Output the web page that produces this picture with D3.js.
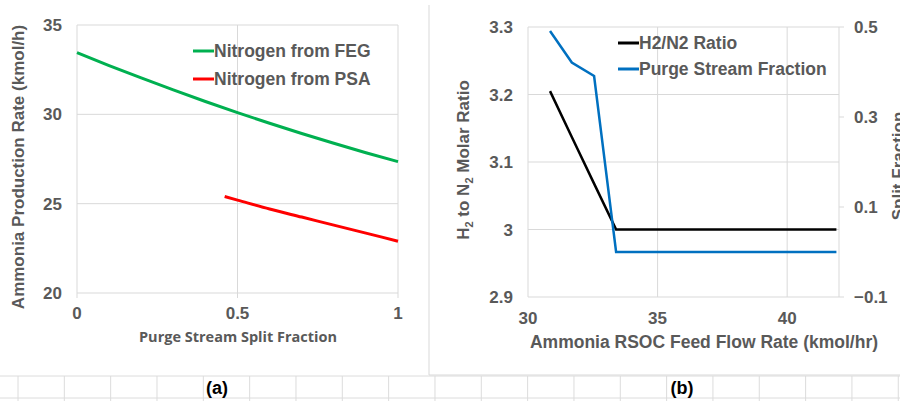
<!DOCTYPE html>
<html>
<head>
<meta charset="utf-8">
<script src="https://cdn.jsdelivr.net/npm/d3@7"></script>
<style>
  body { margin: 0; background: #fff; }
  svg { display: block; }
  text { font-family: "Liberation Sans", Arial, sans-serif; font-weight: bold; fill: #595959; }
</style>
</head>
<body>
<svg id="chart" width="900" height="401"></svg>
<script>

// ---- panel (a) data: purge stream split fraction vs ammonia production ----
var splitFrac = [0, 0.1, 0.2, 0.3, 0.4, 0.5, 0.6, 0.7, 0.8, 0.9, 1.0];
var feg = [33.45, 32.73, 32.04, 31.37, 30.72, 30.1, 29.5, 28.93, 28.38, 27.85, 27.35];
var psaFrac = [0.46, 0.5, 0.6, 0.7, 0.8, 0.9, 1.0];
var psa = [25.4, 25.2, 24.7, 24.25, 23.8, 23.35, 22.9];
var aXTicks = [0, 0.5, 1];
var aYTicks = [20, 25, 30, 35];

// ---- panel (b) data: RSOC feed flow vs H2/N2 ratio and purge fraction ----
var feedFlow = [30.85, 31.69, 32.55, 33.4, 35, 37, 39, 41.9];
var h2n2 = [3.205, 3.137, 3.068, 3.0, 3.0, 3.0, 3.0, 3.0];
var purge = [0.491, 0.421, 0.391, 0.0, 0.0, 0.0, 0.0, 0.0];
var bXTicks = [30, 35, 40];
var bYTicks = [2.9, 3.0, 3.1, 3.2, 3.3];
var bY2Ticks = [-0.1, 0.1, 0.3, 0.5];

var svg = d3.select('#chart');
var gridCol = '#d9d9d9';

// spreadsheet cells underneath
var cells = svg.append('g');
[376, 398].forEach(function(y) {
  cells.append('line').attr('x1', 0).attr('x2', 900).attr('y1', y).attr('y2', y)
    .attr('stroke', '#dcdcdc').attr('stroke-width', 1);
});
d3.range(18, 900, 46.33).forEach(function(x) {
  cells.append('line').attr('x1', x).attr('x2', x).attr('y1', 376).attr('y2', 401)
    .attr('stroke', '#dcdcdc').attr('stroke-width', 1);
});
// chart frame edges
svg.append('line').attr('x1', 429).attr('x2', 429).attr('y1', 5).attr('y2', 375).attr('stroke', gridCol);
svg.append('line').attr('x1', 429).attr('x2', 900).attr('y1', 375).attr('y2', 375).attr('stroke', gridCol);

svg.append('text').attr('x', 217).attr('y', 394).attr('text-anchor', 'middle')
  .style('font-size', '18px').style('fill', '#000').text('(a)');
svg.append('text').attr('x', 682).attr('y', 394).attr('text-anchor', 'middle')
  .style('font-size', '18px').style('fill', '#000').text('(b)');

// ================= panel (a) =================
var xa = d3.scaleLinear().domain([0, 1]).range([77, 398]);
var ya = d3.scaleLinear().domain([20, 35]).range([293, 25]);
var ga = svg.append('g');

aYTicks.forEach(function(t) {
  ga.append('line').attr('x1', xa(0)).attr('x2', xa(1)).attr('y1', ya(t)).attr('y2', ya(t))
    .attr('stroke', gridCol);
  ga.append('text').attr('x', 62).attr('y', ya(t) + 6).attr('text-anchor', 'end')
    .style('font-size', '17px').text(t);
});
aXTicks.forEach(function(t) {
  ga.append('line').attr('x1', xa(t)).attr('x2', xa(t)).attr('y1', ya(35)).attr('y2', ya(20) + 5)
    .attr('stroke', gridCol);
  ga.append('text').attr('x', xa(t)).attr('y', 319).attr('text-anchor', 'middle')
    .style('font-size', '17px').text(t);
});

var lineA = d3.line().x(function(d) { return xa(d[0]); }).y(function(d) { return ya(d[1]); })
  .curve(d3.curveMonotoneX);
ga.append('path').datum(d3.zip(splitFrac, feg)).attr('d', lineA)
  .attr('fill', 'none').attr('stroke', '#00b050').attr('stroke-width', 3);
ga.append('path').datum(d3.zip(psaFrac, psa)).attr('d', lineA)
  .attr('fill', 'none').attr('stroke', '#ff0000').attr('stroke-width', 3);

ga.append('text').attr('x', 238).attr('y', 342).attr('text-anchor', 'middle')
  .style('font-family', '"Open Sans", sans-serif').style('font-size', '14.5px')
  .text('Purge Stream Split Fraction');
ga.append('text').attr('transform', 'translate(24,167) rotate(-90)').attr('text-anchor', 'middle')
  .style('font-size', '17px').text('Ammonia Production Rate (kmol/h)');

// legend (a)
var legA = [['Nitrogen from FEG', '#00b050', 51], ['Nitrogen from PSA', '#ff0000', 79]];
legA.forEach(function(l) {
  ga.append('line').attr('x1', 193).attr('x2', 214).attr('y1', l[2]).attr('y2', l[2])
    .attr('stroke', l[1]).attr('stroke-width', 3);
  ga.append('text').attr('x', 214).attr('y', l[2] + 6).style('font-size', '17.5px').text(l[0]);
});

// ================= panel (b) =================
var xb = d3.scaleLinear().domain([30, 42]).range([528, 839]);
var yb = d3.scaleLinear().domain([2.9, 3.3]).range([297, 27]);
var yb2 = d3.scaleLinear().domain([-0.1, 0.5]).range([297, 27]);
var gb = svg.append('g');

bYTicks.forEach(function(t) {
  gb.append('line').attr('x1', xb(30)).attr('x2', xb(42)).attr('y1', yb(t)).attr('y2', yb(t))
    .attr('stroke', gridCol);
  gb.append('text').attr('x', 513).attr('y', yb(t) + 6).attr('text-anchor', 'end')
    .style('font-size', '17px').text(t === 3 ? '3' : d3.format('.1f')(t));
});
bXTicks.forEach(function(t) {
  gb.append('line').attr('x1', xb(t)).attr('x2', xb(t)).attr('y1', yb(3.3)).attr('y2', yb(2.9))
    .attr('stroke', gridCol);
  gb.append('text').attr('x', xb(t)).attr('y', 324).attr('text-anchor', 'middle')
    .style('font-size', '17px').text(t);
});
gb.append('line').attr('x1', xb(42)).attr('x2', xb(42)).attr('y1', 27).attr('y2', 297).attr('stroke', gridCol);
bY2Ticks.forEach(function(t) {
  gb.append('line').attr('x1', xb(42)).attr('x2', xb(42) + 5).attr('y1', yb2(t)).attr('y2', yb2(t))
    .attr('stroke', gridCol);
  gb.append('text').attr('x', 854).attr('y', yb2(t) + 6)
    .style('font-size', '17px').text(d3.format('.1f')(t));
});

var lineB = d3.line().x(function(d) { return xb(d[0]); }).y(function(d) { return yb(d[1]); });
var lineB2 = d3.line().x(function(d) { return xb(d[0]); }).y(function(d) { return yb2(d[1]); });
gb.append('path').datum(d3.zip(feedFlow, h2n2)).attr('d', lineB)
  .attr('fill', 'none').attr('stroke', '#000').attr('stroke-width', 2.5);
gb.append('path').datum(d3.zip(feedFlow, purge)).attr('d', lineB2)
  .attr('fill', 'none').attr('stroke', '#0070c0').attr('stroke-width', 2.5);

gb.append('text').attr('x', 704).attr('y', 348).attr('text-anchor', 'middle')
  .style('font-size', '17.5px').text('Ammonia RSOC Feed Flow Rate (kmol/hr)');

var yt = gb.append('text').attr('transform', 'translate(469,160) rotate(-90)')
  .attr('text-anchor', 'middle').style('font-size', '17px');
yt.append('tspan').text('H');
yt.append('tspan').attr('dy', 4).style('font-size', '11px').text('2');
yt.append('tspan').attr('dy', -4).text(' to N');
yt.append('tspan').attr('dy', 4).style('font-size', '11px').text('2');
yt.append('tspan').attr('dy', -4).text(' Molar Ratio');

// right-hand axis title runs off the page edge in the original too
gb.append('text').attr('transform', 'translate(904,166) rotate(-90)').attr('text-anchor', 'middle')
  .style('font-size', '17px').text('Split Fraction');

// legend (b)
var legB = [['H2/N2 Ratio', '#000', 43], ['Purge Stream Fraction', '#0070c0', 69]];
legB.forEach(function(l) {
  gb.append('line').attr('x1', 618).attr('x2', 639).attr('y1', l[2]).attr('y2', l[2])
    .attr('stroke', l[1]).attr('stroke-width', 3);
  gb.append('text').attr('x', 639).attr('y', l[2] + 6).style('font-size', '17.5px').text(l[0]);
});

</script>
</body>
</html>
